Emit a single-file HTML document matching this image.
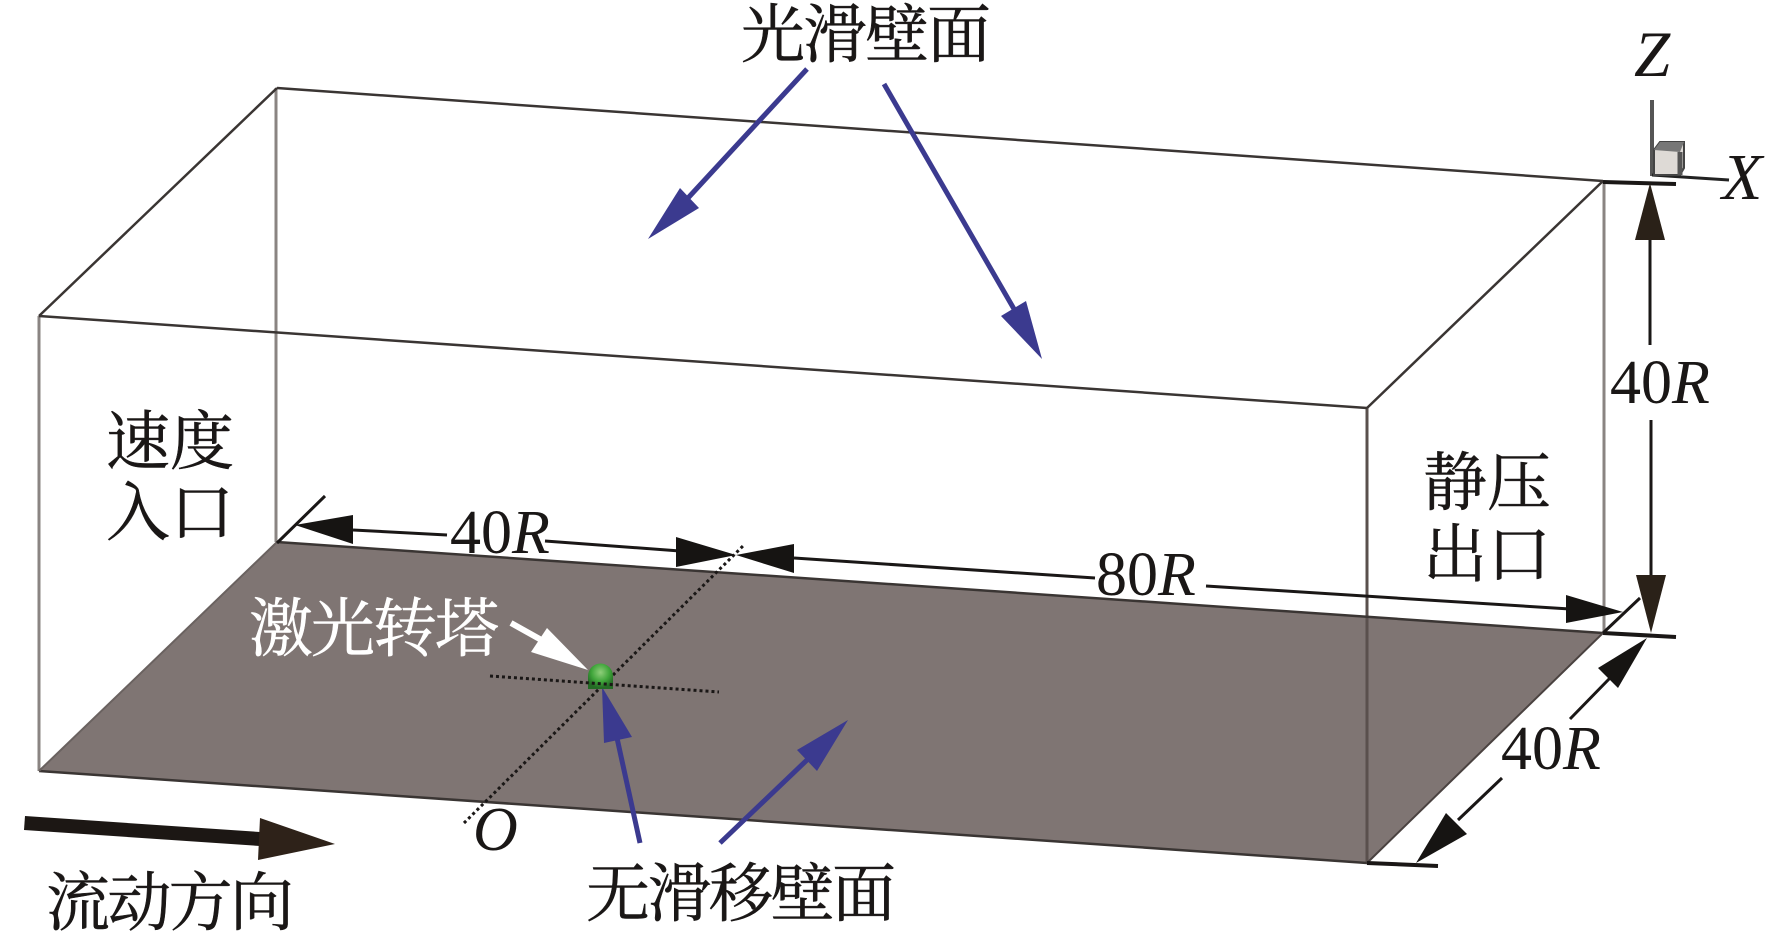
<!DOCTYPE html>
<html>
<head>
<meta charset="utf-8">
<style>
html,body{margin:0;padding:0;background:#fff;width:1772px;height:947px;overflow:hidden}
svg{display:block}
.c{font-family:"Noto Serif CJK SC","Liberation Serif",serif;font-size:64px;fill:#1a1716;stroke:#1a1716;stroke-width:0.5}
.n{font-family:"Liberation Serif",serif;font-size:62px;fill:#1a1716}
.i{font-style:italic}
</style>
</head>
<body>
<svg width="1772" height="947" viewBox="0 0 1772 947" xmlns="http://www.w3.org/2000/svg">
<rect width="1772" height="947" fill="#fff"/>
<polygon points="277,542 1603,633 1367,863 39,771" fill="#7f7573"/>
<g fill="none" stroke="#8a8482" stroke-width="3">
<line x1="39" y1="316" x2="39" y2="771"/>
<line x1="276" y1="88" x2="276" y2="542"/>
<line x1="1604" y1="181" x2="1604" y2="633"/>
<line x1="1367" y1="408" x2="1367" y2="863" stroke="#5a504d"/>
</g>
<g fill="none" stroke="#3a3533" stroke-width="2.5">
<line x1="277" y1="88" x2="1603" y2="181"/>
<line x1="39" y1="316" x2="1367" y2="408"/>
<line x1="39" y1="316" x2="277" y2="88"/>
<line x1="1367" y1="408" x2="1603" y2="181"/>
<line x1="277" y1="542" x2="1603" y2="633"/>
<line x1="39" y1="771" x2="1367" y2="863"/>
<line x1="39" y1="771" x2="277" y2="542" stroke="#6a6260" stroke-width="2"/>
<line x1="1367" y1="863" x2="1603" y2="633" stroke="#4a4240" stroke-width="2"/>
</g>
<!-- Dotted axis -->
<g fill="none" stroke="#1a1716" stroke-width="3" stroke-dasharray="3 3">
<line x1="464" y1="823" x2="744" y2="545"/>
</g>
<!-- Dimension lines -->
<g fill="none" stroke="#1a1716" stroke-width="3">
<line x1="277" y1="543" x2="325" y2="496"/>
<line x1="353" y1="530" x2="447" y2="535"/>
<line x1="545" y1="541" x2="680" y2="551"/>
<line x1="794" y1="558" x2="1095" y2="578"/>
<line x1="1206" y1="586" x2="1570" y2="609"/>
<line x1="1603" y1="633" x2="1640" y2="598"/>
<line x1="1603" y1="633" x2="1676" y2="637" stroke-width="4"/>
<line x1="1603" y1="182" x2="1676" y2="184" stroke-width="4"/>
<line x1="1650" y1="238" x2="1650" y2="345"/>
<line x1="1651" y1="420" x2="1651" y2="578"/>
<line x1="1570" y1="719" x2="1610" y2="678"/>
<line x1="1502" y1="778" x2="1458" y2="820"/>
<line x1="1367" y1="863" x2="1438" y2="866" stroke-width="4"/>
</g>
<g fill="#161412">
<polygon points="295,525 353,515 353,544"/>
<polygon points="736,555 676,537 676,567"/>
<polygon points="736,555 794,544 794,573"/>
<polygon points="1623,612 1566,595 1566,623"/>
<polygon points="1647,638 1598,668 1618,688"/>
<polygon points="1416,863 1446,813 1467,834"/>
</g>
<g fill="#2a2118">
<polygon points="1650,183 1635,240 1665,240"/>
<polygon points="1651,633 1636,575 1666,575"/>
</g>
<!-- Coordinate axes -->
<line x1="1652" y1="100" x2="1652" y2="176" stroke="#555" stroke-width="4"/>
<line x1="1652" y1="175" x2="1729" y2="180" stroke="#222" stroke-width="3"/>
<polygon points="1654,150 1660,142 1684,142 1684,168 1680,175 1654,175" fill="#dedad6" stroke="#444" stroke-width="2"/>
<polygon points="1654,150 1660,142 1684,142 1680,152" fill="#777"/>
<line x1="1680" y1="152" x2="1680" y2="175" stroke="#555" stroke-width="5"/>
<!-- Flow arrow -->
<polygon points="25,816 260,832 260,846 24,830" fill="#1c1714"/>
<polygon points="260,818 258,860 335,844" fill="#2e2219"/>
<!-- Blue arrows -->
<g fill="none" stroke="#3b3a8f" stroke-width="5">
<line x1="807" y1="69" x2="688" y2="198"/>
<line x1="884" y1="84" x2="1014" y2="309"/>
<line x1="640" y1="843" x2="617" y2="738"/>
<line x1="720" y1="843" x2="808" y2="759"/>
</g>
<g fill="#3b3a8f">
<polygon points="648,239 680,188 699,208"/>
<polygon points="1042,359 1001,316 1026,301"/>
<polygon points="602,687 604,743 632,737"/>
<polygon points="848,720 797,750 817,771"/>
</g>
<!-- Turret -->
<defs>
<radialGradient id="g" cx="0.5" cy="0.35" r="0.6">
<stop offset="0" stop-color="#8fce7a"/>
<stop offset="0.6" stop-color="#3fa53a"/>
<stop offset="1" stop-color="#246b25"/>
</radialGradient>
</defs>
<path d="M588,689 L588,676 A12.5,12.5 0 0 1 613,676 L613,689 Z" fill="url(#g)"/>
<line x1="511" y1="623" x2="545" y2="642" stroke="#fff" stroke-width="6"/>
<polygon points="588,670 547,628 531,652" fill="#fff"/>
<g fill="none" stroke="#1a1716" stroke-width="3" stroke-dasharray="3 3">
<line x1="490" y1="676" x2="719" y2="692"/>
</g>
<!-- Labels -->
<text class="c" x="741" y="57" textLength="250">光滑壁面</text>
<text class="c" x="106" y="464">速度</text>
<text class="c" x="106" y="535">入口</text>
<text class="c" x="1423" y="505">静压</text>
<text class="c" x="1423" y="577">出口</text>
<text class="c" x="586" y="916" textLength="310">无滑移壁面</text>
<text class="c" x="46" y="925" textLength="248">流动方向</text>
<text class="c" x="249" y="651" textLength="250" style="fill:#fff;stroke:#fff">激光转塔</text>
<text class="n" x="450" y="553">40<tspan class="i">R</tspan></text>
<text class="n" x="1096" y="595">80<tspan class="i">R</tspan></text>
<text class="n" x="1610" y="403">40<tspan class="i">R</tspan></text>
<text class="n" x="1501" y="769">40<tspan class="i">R</tspan></text>
<text class="n i" x="473" y="850" style="font-size:62px">O</text>
<text class="n i" x="1634" y="76" style="font-size:65px">Z</text>
<text class="n i" x="1722" y="199" style="font-size:66px">X</text>
</svg>
</body>
</html>
